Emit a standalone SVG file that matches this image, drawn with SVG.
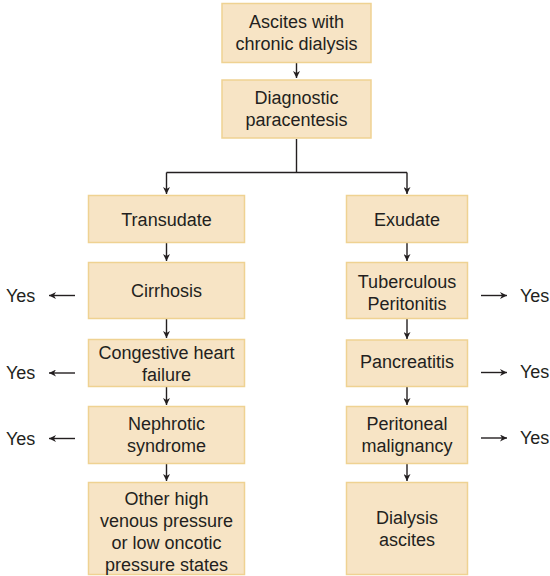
<svg xmlns="http://www.w3.org/2000/svg" width="550" height="576" viewBox="0 0 550 576">
  <defs>
    <marker id="arrow" viewBox="0 0 10 10" refX="10" refY="5" markerWidth="7" markerHeight="7" markerUnits="userSpaceOnUse" orient="auto">
      <path d="M0,0 L10,5 L0,10 L3,5 Z" fill="#231f20"/>
    </marker>
    <style>
      .box { fill: #f7e4c5; stroke: #efd292; stroke-width: 1.5; }
      .lbl { font-family: "Liberation Sans", Arial, sans-serif; font-size: 18px; fill: #231f20; text-anchor: middle; }
      .yes { font-family: "Liberation Sans", Arial, sans-serif; font-size: 18px; fill: #231f20; }
      .conn { stroke: #231f20; stroke-width: 1.4; fill: none; }
      .arr { stroke: #231f20; stroke-width: 1.4; fill: none; marker-end: url(#arrow); }
    </style>
  </defs>

  <rect width="550" height="576" fill="#ffffff"/>

  <!-- connectors -->
  <g id="connectors">
    <line class="arr" x1="296.5" y1="63" x2="296.5" y2="78"/>
    <polyline class="conn" points="296.5,139 296.5,172.5"/>
    <line class="conn" x1="166.5" y1="172.5" x2="407" y2="172.5"/>
    <line class="arr" x1="166.5" y1="172.5" x2="166.5" y2="194"/>
    <line class="arr" x1="407" y1="172.5" x2="407" y2="194"/>

    <line class="arr" x1="166.5" y1="243" x2="166.5" y2="261"/>
    <line class="arr" x1="166.5" y1="319" x2="166.5" y2="338"/>
    <line class="arr" x1="166.5" y1="387" x2="166.5" y2="405"/>
    <line class="arr" x1="166.5" y1="464" x2="166.5" y2="481"/>

    <line class="arr" x1="407" y1="243" x2="407" y2="261"/>
    <line class="arr" x1="407" y1="319" x2="407" y2="339"/>
    <line class="arr" x1="407" y1="387" x2="407" y2="405"/>
    <line class="arr" x1="407" y1="464" x2="407" y2="481"/>

    <line class="arr" x1="75" y1="295.5" x2="49" y2="295.5"/>
    <line class="arr" x1="75" y1="373" x2="49" y2="373"/>
    <line class="arr" x1="75" y1="438.5" x2="49" y2="438.5"/>

    <line class="arr" x1="481" y1="295.5" x2="507" y2="295.5"/>
    <line class="arr" x1="481" y1="372.5" x2="507" y2="372.5"/>
    <line class="arr" x1="481" y1="438" x2="507" y2="438"/>
  </g>

  <!-- top nodes -->
  <g id="ascites">
    <rect class="box" x="222" y="3.5" width="149" height="59"/>
    <text class="lbl" x="296.5" y="28">Ascites with</text>
    <text class="lbl" x="296.5" y="50">chronic dialysis</text>
  </g>
  <g id="paracentesis">
    <rect class="box" x="222" y="80" width="149" height="58"/>
    <text class="lbl" x="296.5" y="104">Diagnostic</text>
    <text class="lbl" x="296.5" y="126">paracentesis</text>
  </g>

  <!-- transudate branch -->
  <g id="transudate">
    <rect class="box" x="88.5" y="195.5" width="156" height="47"/>
    <text class="lbl" x="166.5" y="225.5">Transudate</text>
  </g>
  <g id="cirrhosis">
    <rect class="box" x="88.5" y="262.5" width="156" height="56"/>
    <text class="lbl" x="166.5" y="297">Cirrhosis</text>
  </g>
  <g id="chf">
    <rect class="box" x="88.5" y="339.5" width="156" height="47"/>
    <text class="lbl" x="166.5" y="359">Congestive heart</text>
    <text class="lbl" x="166.5" y="381">failure</text>
  </g>
  <g id="nephrotic">
    <rect class="box" x="88.5" y="406.5" width="156" height="57"/>
    <text class="lbl" x="166.5" y="430">Nephrotic</text>
    <text class="lbl" x="166.5" y="452">syndrome</text>
  </g>
  <g id="other">
    <rect class="box" x="88.5" y="482.5" width="156" height="92"/>
    <text class="lbl" x="166.5" y="505">Other high</text>
    <text class="lbl" x="166.5" y="527">venous pressure</text>
    <text class="lbl" x="166.5" y="549">or low oncotic</text>
    <text class="lbl" x="166.5" y="571">pressure states</text>
  </g>

  <!-- exudate branch -->
  <g id="exudate">
    <rect class="box" x="346.5" y="195.5" width="121" height="47"/>
    <text class="lbl" x="407" y="225.5">Exudate</text>
  </g>
  <g id="tuberculous">
    <rect class="box" x="346.5" y="262.5" width="121" height="56"/>
    <text class="lbl" x="407" y="288">Tuberculous</text>
    <text class="lbl" x="407" y="310">Peritonitis</text>
  </g>
  <g id="pancreatitis">
    <rect class="box" x="346.5" y="340" width="121" height="46.5"/>
    <text class="lbl" x="407" y="368">Pancreatitis</text>
  </g>
  <g id="malignancy">
    <rect class="box" x="346.5" y="406.5" width="121" height="57"/>
    <text class="lbl" x="407" y="430">Peritoneal</text>
    <text class="lbl" x="407" y="452">malignancy</text>
  </g>
  <g id="dialysis">
    <rect class="box" x="346.5" y="482.5" width="121" height="92"/>
    <text class="lbl" x="407" y="524">Dialysis</text>
    <text class="lbl" x="407" y="546">ascites</text>
  </g>

  <!-- outcome labels -->
  <g id="yes-left">
    <text class="yes" x="6" y="302">Yes</text>
    <text class="yes" x="6" y="379">Yes</text>
    <text class="yes" x="6" y="445">Yes</text>
  </g>
  <g id="yes-right">
    <text class="yes" x="520" y="302">Yes</text>
    <text class="yes" x="520" y="378">Yes</text>
    <text class="yes" x="520" y="444">Yes</text>
  </g>
</svg>
